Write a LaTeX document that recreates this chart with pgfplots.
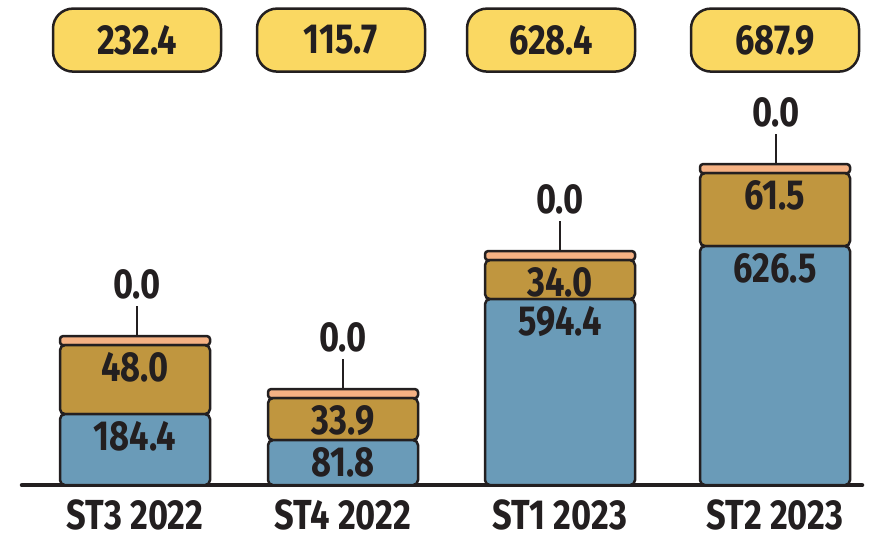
\documentclass[border=0pt]{standalone}
\usepackage{pgfplots}
\pgfplotsset{compat=1.18}
\usepackage{pgfplotstable}
\usepackage{fontspec}
\setmainfont[FakeStretch=0.82]{Fira Sans}
\definecolor{cblue}{HTML}{6A9BB8}
\definecolor{cbrown}{HTML}{C0963F}
\definecolor{corange}{HTML}{F5B183}
\definecolor{cyellow}{HTML}{FAD862}
\definecolor{cdark}{HTML}{231F20}

% bar heights as drawn (visual scale), labels as printed
\pgfplotstableread{
x   blue brown orange lblue lbrown
135 71   69    9      184.4 48.0
343 45   42    9      81.8  33.9
560 186  39    9      594.4 34.0
775 239  73    9      626.5 61.5
}\bars

\pgfplotstableread{
x   top len lab
137 149 30  0.0
343 96  30  0.0
560 234 30  0.0
776 321 30  0.0
}\zeros

\pgfplotstableread{
x   y   lab
137 445 232.4
341 445 115.7
551 445 628.4
775 445 687.9
}\totals

\newcommand{\bigtxt}{\fontsize{42}{46}\selectfont\bfseries\color{cdark}}

\begin{document}
\begin{tikzpicture}
\pgfplotsset{
  base/.style={
    scale only axis, width=874pt, height=485pt,
    xmin=0, xmax=874, ymin=0, ymax=485,
    clip=false, axis line style={draw=none},
    ytick=\empty, major tick length=0pt,
  },
}
\begin{axis}[base,
  ybar stacked, bar width=150pt,
  xtick={135,343,560,775},
  xticklabels={ST3 2022,ST4 2022,ST1 2023,ST2 2023},
  xticklabel style={font=\bigtxt, anchor=north, yshift=-11pt},
  every axis plot/.append style={draw=cdark, line width=2.5pt, rounded corners=5pt},
]
\addplot[fill=cblue] table[x=x, y=blue] {\bars};
\addplot[fill=cbrown] table[x=x, y=brown] {\bars};
\addplot[fill=corange, rounded corners=3pt] table[x=x, y=orange] {\bars};
\path (axis cs:0,-51) rectangle (axis cs:874,485);
\draw[cdark, line width=4.5pt, line cap=round] (axis cs:22,0) -- (axis cs:862,0);
\end{axis}
\begin{axis}[base, xtick=\empty,
  every node near coord/.append style={font=\bigtxt, inner sep=0pt}]
% segment value labels at the top of each segment
\addplot[draw=none, mark=none, nodes near coords, point meta=explicit symbolic,
  nodes near coords style={anchor=north, yshift=-7pt}]
  table[x=x, y=blue, meta=lblue] {\bars};
\addplot[draw=none, mark=none, nodes near coords, point meta=explicit symbolic,
  nodes near coords style={anchor=north, yshift=-7pt}]
  table[x=x, y expr=\thisrow{blue}+\thisrow{brown}, meta=lbrown] {\bars};
% zero values with leader lines
\addplot[draw=none, mark=none,
  error bars/.cd, y dir=plus, y explicit,
  error bar style={draw=cdark, line width=2.2pt}, error mark=none]
  table[x=x, y=top, y error=len] {\zeros};
\addplot[draw=none, mark=none, nodes near coords, point meta=explicit symbolic,
  nodes near coords style={anchor=south, yshift=37pt}]
  table[x=x, y=top, meta=lab] {\zeros};
% totals
\addplot[draw=none, mark=none, nodes near coords, point meta=explicit symbolic,
  nodes near coords style={anchor=center, fill=cyellow, draw=cdark,
    line width=2.5pt, rounded corners=20pt, minimum width=168pt, minimum height=63pt}]
  table[x=x, y=y, meta=lab] {\totals};
\end{axis}
\end{tikzpicture}
\end{document}
